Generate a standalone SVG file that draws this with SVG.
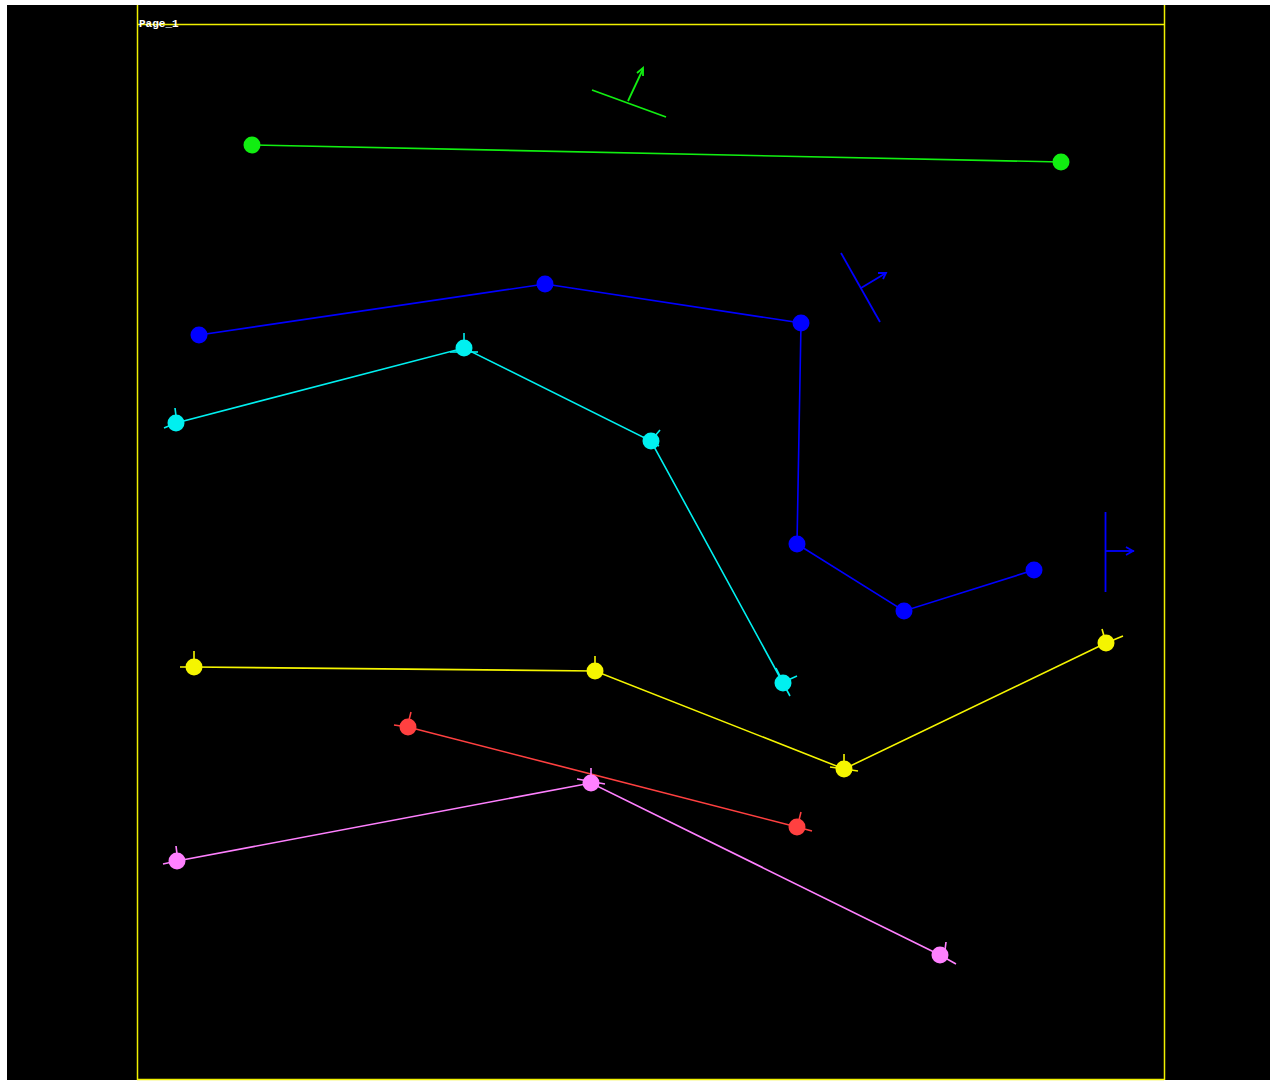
<svg xmlns="http://www.w3.org/2000/svg" width="1277" height="1082" viewBox="0 0 1277 1082">
<style>
.ln{fill:none;stroke-width:1.6}
.t{stroke-width:1.8;fill:none}
.lbl{font-family:"Liberation Mono",monospace;font-size:11px;font-weight:bold;fill:#fff}
</style>
<rect x="0" y="0" width="1277" height="1082" fill="#fff"/>
<rect x="7" y="5" width="1263" height="1075" fill="#000"/>
<g id="frame" stroke="#f0f000" stroke-width="1.5" fill="none">
<line x1="137.5" y1="5" x2="137.5" y2="1080"/>
<line x1="1164.5" y1="5" x2="1164.5" y2="1080"/>
<line x1="137" y1="24.5" x2="1164" y2="24.5"/>
<line x1="137" y1="1079.5" x2="1164" y2="1079.5"/>
</g>
<text class="lbl" x="139" y="27">Page_1</text>
<g id="connectors">
<polyline class="ln" stroke="#11ee11" points="252,145 1061,162"/>
<polyline class="ln" stroke="#0000ff" points="199,335 545,284 801,323 797,544 904,611 1034,570"/>
<polyline class="ln" stroke="#00f0f0" points="164,428 176,423 464,348 651,441 783,683 790,696"/>
<polyline class="ln" stroke="#f5f500" points="180,667 194,667 595,671 844,769 1106,643 1123,636"/>
<polyline class="ln" stroke="#ff4040" points="394,725 408,727 797,827 812,831"/>
<polyline class="ln" stroke="#ff80ff" points="163,864 177,861 591,783 940,955 956,964"/>
<line class="ln" stroke="#ff80ff" x1="577" y1="779" x2="605" y2="784"/>
<line class="ln" stroke="#00f0f0" x1="450" y1="352" x2="478" y2="352"/>
<line class="ln" stroke="#00f0f0" x1="643" y1="437" x2="659" y2="446"/>
<line class="ln" stroke="#f5f500" x1="830" y1="767" x2="858" y2="771"/>
</g>
<g id="symbols">
<g id="sym1" stroke="#11ee11" class="t">
<line x1="592" y1="90" x2="666" y2="117"/>
<line x1="628" y1="101" x2="643" y2="69"/>
<polyline points="637,73 643,68 643,76"/>
</g>
<g id="sym2" stroke="#0000ff" class="t">
<line x1="841" y1="253" x2="880" y2="322"/>
<line x1="861" y1="288" x2="886" y2="273"/>
<polyline points="878,273 886,273 883,279"/>
</g>
<g id="sym3" stroke="#0000ff" class="t">
<line x1="1105.5" y1="512" x2="1105.5" y2="592"/>
<line x1="1105" y1="551" x2="1134" y2="551"/>
<polyline points="1126,547 1133,551 1126,555"/>
</g>
</g>
<g id="green-nodes" fill="#11ee11">
<circle id="g1" cx="252" cy="145" r="8.5"/>
<circle id="g2" cx="1061" cy="162" r="8.5"/>
</g>
<g id="blue-nodes" fill="#0000ff">
<circle id="b1" cx="199" cy="335" r="8.5"/>
<circle id="b2" cx="545" cy="284" r="8.5"/>
<circle id="b3" cx="801" cy="323" r="8.5"/>
<circle id="b4" cx="797" cy="544" r="8.5"/>
<circle id="b5" cx="904" cy="611" r="8.5"/>
<circle id="b6" cx="1034" cy="570" r="8.5"/>
</g>
<g id="cyan-nodes" fill="#00f0f0" stroke="#00f0f0" stroke-width="1.6">
<g id="c1"><circle cx="176" cy="423" r="8.5" stroke="none"/><line x1="176" y1="416" x2="175" y2="408"/></g>
<g id="c2"><circle cx="464" cy="348" r="8.5" stroke="none"/><line x1="464" y1="341" x2="464" y2="333"/></g>
<g id="c3"><circle cx="651" cy="441" r="8.5" stroke="none"/><line x1="655" y1="436" x2="660" y2="430"/></g>
<g id="c4"><circle cx="783" cy="683" r="8.5" stroke="none"/><line x1="788" y1="680" x2="797" y2="676"/><line x1="780" y1="676" x2="776" y2="668"/></g>
</g>
<g id="yellow-nodes" fill="#f5f500" stroke="#f5f500" stroke-width="1.6">
<g id="y1"><circle cx="194" cy="667" r="8.5" stroke="none"/><line x1="194" y1="660" x2="194" y2="651"/></g>
<g id="y2"><circle cx="595" cy="671" r="8.5" stroke="none"/><line x1="595" y1="664" x2="595" y2="656"/></g>
<g id="y3"><circle cx="844" cy="769" r="8.5" stroke="none"/><line x1="844" y1="762" x2="844" y2="754"/></g>
<g id="y4"><circle cx="1106" cy="643" r="8.5" stroke="none"/><line x1="1104" y1="636" x2="1102" y2="629"/></g>
</g>
<g id="red-nodes" fill="#ff4040" stroke="#ff4040" stroke-width="1.6">
<g id="r1"><circle cx="408" cy="727" r="8.5" stroke="none"/><line x1="409" y1="720" x2="411" y2="712"/></g>
<g id="r2"><circle cx="797" cy="827" r="8.5" stroke="none"/><line x1="799" y1="820" x2="801" y2="812"/></g>
</g>
<g id="pink-nodes" fill="#ff80ff" stroke="#ff80ff" stroke-width="1.6">
<g id="p1"><circle cx="177" cy="861" r="8.5" stroke="none"/><line x1="177" y1="854" x2="176" y2="846"/></g>
<g id="p2"><circle cx="591" cy="783" r="8.5" stroke="none"/><line x1="591" y1="776" x2="591" y2="768"/></g>
<g id="p3"><circle cx="940" cy="955" r="8.5" stroke="none"/><line x1="945" y1="950" x2="946" y2="942"/></g>
</g>
</svg>
